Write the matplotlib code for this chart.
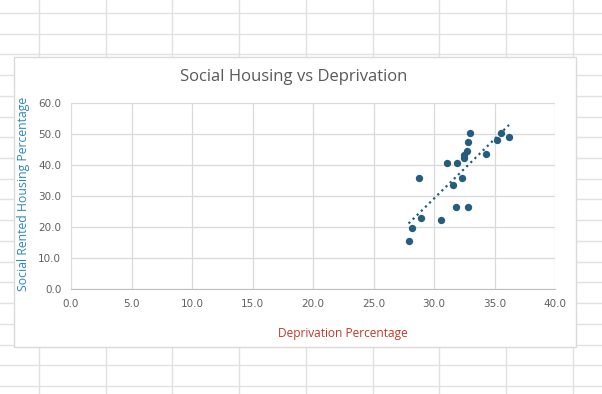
import numpy as np
import matplotlib
matplotlib.use("Agg")
import matplotlib.pyplot as plt
from matplotlib.lines import Line2D
from matplotlib.patches import Rectangle

# deprivation % vs social rented housing %
deprivation = [27.9, 28.2, 28.9, 28.8, 30.6, 31.1, 31.6, 31.8, 31.9, 32.3,
               32.45, 32.5, 32.7, 32.8, 33.0, 32.8, 34.3, 35.2, 35.5, 36.2]
social_rented = [15.5, 19.6, 23.0, 35.8, 22.2, 40.7, 33.7, 26.3, 40.7, 35.8,
                 42.4, 43.3, 44.4, 47.4, 50.4, 26.6, 43.6, 48.2, 50.4, 48.9]

xticks = np.arange(0, 41, 5)
yticks = np.arange(0, 61, 10)

W, H = 602, 394
fig = plt.figure(figsize=(W / 100, H / 100), dpi=100)
fig.patch.set_facecolor("white")

def px(x, y):
    return x / W, 1 - y / H

# spreadsheet cells behind the chart
for gx in np.arange(39, W, 66.7):
    fig.add_artist(Line2D([gx / W, gx / W], [0, 1], color="#e1e1e1", lw=1.0, zorder=0))
for gy in np.arange(13, H, 20.72):
    fig.add_artist(Line2D([0, 1], [1 - gy / H, 1 - gy / H], color="#e1e1e1", lw=1.0, zorder=0))

# chart area
cx0, cy0 = px(14, 347)
cx1, cy1 = px(576, 57)
fig.add_artist(Rectangle((cx0, cy0), cx1 - cx0, cy1 - cy0, transform=fig.transFigure,
                         facecolor="white", edgecolor="#dadada", lw=1.0, zorder=1))

l, b = px(71, 289)
r, t = px(555, 103)
ax = fig.add_axes([l, b, r - l, t - b], zorder=2)
ax.set_facecolor("none")

ax.set_xlim(0, 40)
ax.set_ylim(0, 60)
ax.set_xticks(xticks)
ax.set_yticks(yticks)
ax.set_xticklabels([f"{v:.1f}" for v in xticks])
ax.set_yticklabels([f"{v:.1f}" for v in yticks])
ax.grid(True, color="#d9d9d9", lw=0.9)
ax.set_axisbelow(True)
for s in ["top", "right", "left"]:
    ax.spines[s].set_visible(False)
ax.spines["bottom"].set_color("#bfbfbf")
ax.tick_params(length=0, labelsize=7.5, labelcolor="#606060", pad=7)
for lab in ax.get_xticklabels() + ax.get_yticklabels():
    lab.set_family("DejaVu Sans")

ax.scatter(deprivation, social_rented, s=28, color="#245d7d", zorder=3, linewidths=0)

# linear trendline
k, c = np.polyfit(deprivation, social_rented, 1)
tx = np.array([min(deprivation), max(deprivation)])
ax.plot(tx, k * tx + c, color="#245d7d", lw=1.6, ls=(0, (1, 1.6)), zorder=3)

fig.text(*px(294, 77), "Social Housing vs Deprivation", ha="center", va="center",
         fontsize=12, color="#595959", family="Open Sans", zorder=3)
fig.text(*px(343, 333), "Deprivation Percentage", ha="center", va="center",
         fontsize=8.6, color="#c0392b", family="Open Sans", zorder=3)
fig.text(*px(24, 194), "Social Rented Housing Percentage", ha="center", va="center",
         rotation=90, fontsize=8.8, color="#2e86c1", family="Open Sans", zorder=3)

fig.savefig("out.png", dpi=100)
